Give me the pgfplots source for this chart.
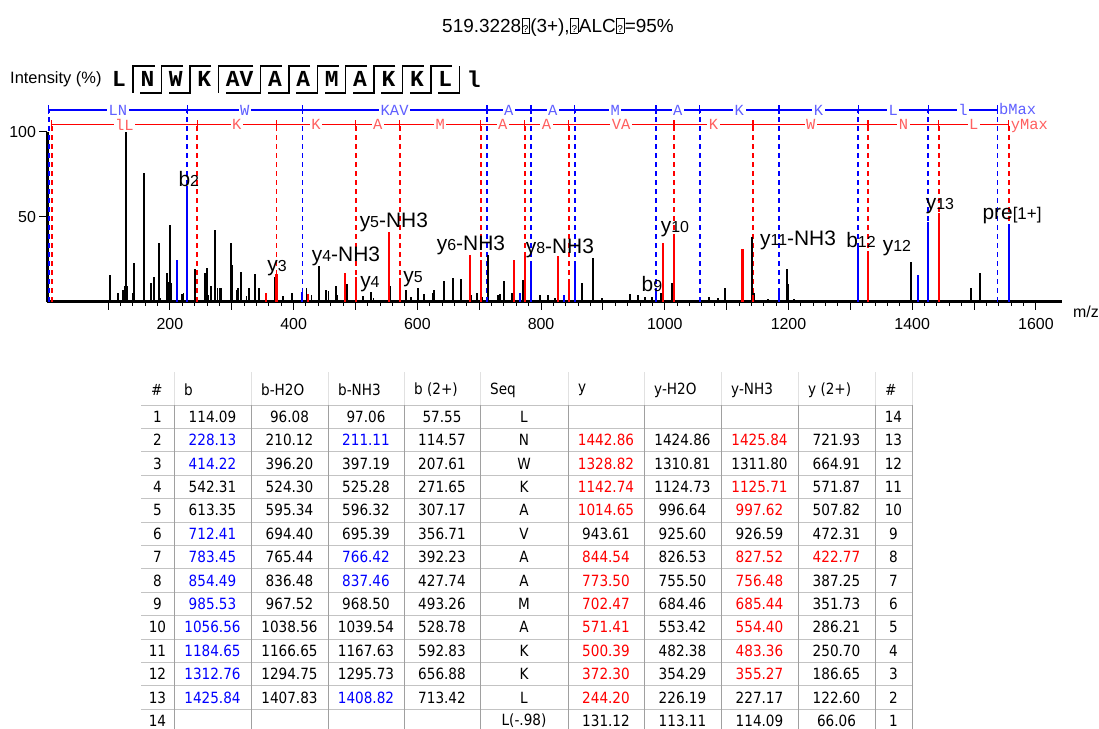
\documentclass[border=0pt]{standalone}
\usepackage{pgfplots}
\pgfplotsset{compat=1.18}
\usepackage{fontspec}
\setmainfont{Liberation Sans}
\newfontfamily\monofont{Liberation Mono}
\newfontfamily\tabfont[FakeStretch=0.88]{DejaVu Sans}
\definecolor{pblue}{RGB}{0,0,255}
\definecolor{pred}{RGB}{255,0,0}
\definecolor{lblue}{RGB}{96,96,255}
\definecolor{lred}{RGB}{255,96,96}
\newcommand\fs[1]{\fontsize{#1}{#1}\selectfont}
\newcommand\ion[3]{{\fs{21}#1}{\fs{16}#2}{\fs{21}#3}}
\newcommand\B{\color{pblue}}
\newcommand\R{\color{pred}}
\newcommand\tofu{\kern0.5pt{\fboxsep=0.7pt\fboxrule=0.6pt\fbox{\vphantom{8}\fs{10}?}}\kern0.5pt}

\pgfplotstableread{
mz I
103.2 15.7
115.5 5.3
124.7 7
127.0 9
129.0 100
131.2 9
140.0 5
142.5 22.5
158.6 75.9
169.4 10.8
174.8 14.7
182.4 34.7
184.5 2
194.8 16.7
197.5 11.8
199.6 44.9
201.3 10.8
220.0 4.5
222.0 5
240.5 19
256.7 16.7
259.4 20
262.0 4
266.0 9
273.4 42.2
277.0 8
280.5 8
283.0 8
298.2 34.5
299.8 21.6
308.0 7
310.0 8
314.4 17.3
324.0 3.5
327.0 4.5
328.5 8
337.5 16.3
344.5 8
369.9 14.7
383.3 3.5
396.8 5.3
420.8 8
429.0 4
441.0 21.2
452.3 7
456.5 6.5
468.5 9
470.5 4
486.7 10.4
512.6 3.5
525.0 6
529.0 2
555.8 9
581.2 7
589.7 3
601.6 8
611.2 4.5
624.8 5.3
627.4 7
643.6 12.4
657.1 14.1
670.6 13.1
686.7 4
695.9 5
705.0 3
713.7 27.5
730.8 4
733.6 4.5
740.6 12.4
752.5 5
770.8 13
798.3 4
810.7 4
822.5 2
865.7 10.8
884.4 25.5
898.0 2
943.8 4.5
957.2 4
968.0 3
978.8 2.5
993.9 5
1012.2 11.2
1071.5 3
1086.5 2
1097.3 8
1140.5 37.8
1144.7 5
1166.3 1.5
1197.5 19.2
1199.7 10.4
1208.9 1.5
1397.5 23.5
1494.5 8.2
1509.5 16.7
}\blackpeaks

\pgfplotstableread{
mz I
244.20 3
355.27 5.3
372.30 16.3
422.77 4.3
483.36 16.7
500.39 14.7
554.40 41
571.41 13.7
685.44 27.5
702.47 24.5
756.48 24.5
773.50 26.5
827.52 26.9
844.54 11.8
997.62 34.3
1014.65 38.6
1125.71 31
1142.74 4
1328.82 30
1442.86 52
}\redpeaks

\pgfplotstableread{
mz I
211.11 24.5
228.13 68
414.22 6
712.41 3
766.42 5
783.45 22.5
837.46 4
854.49 22.5
985.53 5
1056.56 2
1184.65 5.3
1312.76 33.3
1408.82 15.7
1425.84 47
1555.95 46
}\bluepeaks

\pgfplotstableread{
mz L
4 112.8
228.13 112.8
414.22 112.8
712.41 112.8
783.45 112.8
854.49 112.8
985.53 112.8
1056.56 112.8
1184.65 112.8
1312.76 112.8
1425.84 112.8
1537.94 112.8
}\bladder

\pgfplotstableread{
mz L
9 104.2
244.20 104.2
372.30 104.2
500.39 104.2
571.41 104.2
702.47 104.2
773.50 104.2
844.54 104.2
1014.65 104.2
1142.74 104.2
1328.82 104.2
1442.86 104.2
1555.95 104.2
}\yladder

\begin{document}
\begin{tikzpicture}
\begin{axis}[
  at={(47.4bp,-301.7bp)}, anchor=south west,
  scale only axis, width=1014.5bp, height=170bp,
  xmin=2, xmax=1642, ymin=0, ymax=100,
  clip=false,
  axis x line*=bottom, axis y line*=left,
  axis line style={-, line width=2.5bp, black},
  xtick={100,200,...,1600},
  xticklabels={,200,,400,,600,,800,,1000,,1200,,1400,,1600},
  minor x tick num=4,
  ytick={50,100}, yticklabels={50,100},
  tick align=outside,
  major tick length=8bp, minor tick length=4bp,
  tick style={black, line width=1bp},
  ticklabel style={font=\fs{16}},
  xticklabel style={yshift=-5bp},
  /pgf/number format/assume math mode=true,
]
% dashed guide lines
\addplot[ycomb, pblue, line width=1.8bp, dash pattern=on 5bp off 4bp] table[x=mz,y=L] {\bladder};
\addplot[ycomb, pred, line width=1.8bp, dash pattern=on 5bp off 4bp] table[x=mz,y=L] {\yladder};
% peaks
\addplot[ycomb, black, line width=1.8bp] table[x=mz,y=I] {\blackpeaks};
\addplot[ycomb, pred, line width=2.1bp] table[x=mz,y=I] {\redpeaks};
\addplot[ycomb, pblue, line width=2.1bp] table[x=mz,y=I] {\bluepeaks};
% ladders
\draw[pblue, line width=1.3bp] (axis cs:4,112.8) -- (axis cs:1537.94,112.8);
\draw[pred, line width=1.3bp] (axis cs:9,104.2) -- (axis cs:1555.95,104.2);
\addplot[only marks, mark=|, mark size=4.5bp, pblue, mark options={line width=1.4bp}] table[x=mz,y=L] {\bladder};
\addplot[only marks, mark=|, mark size=4.5bp, pred, mark options={line width=1.4bp}] table[x=mz,y=L] {\yladder};
\tikzset{bl/.style={fill=white, inner sep=1.5bp, text=lblue, font=\monofont\fs{15.5}},
         rl/.style={fill=white, inner sep=1.5bp, text=lred, font=\monofont\fs{15.5}}}
\node[bl] at (axis cs:116,112.8) {LN};
\node[bl] at (axis cs:321.2,112.8) {W};
\node[bl] at (axis cs:563.3,112.8) {KAV};
\node[bl] at (axis cs:747.9,112.8) {A};
\node[bl] at (axis cs:819,112.8) {A};
\node[bl] at (axis cs:920,112.8) {M};
\node[bl] at (axis cs:1021,112.8) {A};
\node[bl] at (axis cs:1120.6,112.8) {K};
\node[bl] at (axis cs:1248.7,112.8) {K};
\node[bl] at (axis cs:1369.3,112.8) {L};
\node[bl] at (axis cs:1481.9,112.8) {l};
\node[bl, anchor=west, inner sep=0pt] at (axis cs:1540,113.3) {bMax};
\node[rl] at (axis cs:126.6,104.2) {lL};
\node[rl] at (axis cs:308.25,104.2) {K};
\node[rl] at (axis cs:436.3,104.2) {K};
\node[rl] at (axis cs:535.9,104.2) {A};
\node[rl] at (axis cs:636.9,104.2) {M};
\node[rl] at (axis cs:738,104.2) {A};
\node[rl] at (axis cs:809,104.2) {A};
\node[rl] at (axis cs:929.6,104.2) {VA};
\node[rl] at (axis cs:1078.7,104.2) {K};
\node[rl] at (axis cs:1235.8,104.2) {W};
\node[rl] at (axis cs:1385.8,104.2) {N};
\node[rl] at (axis cs:1499.4,104.2) {L};
\node[rl, anchor=west, inner sep=0pt] at (axis cs:1559,103.4) {yMax};
% ion labels
\tikzset{il/.style={inner sep=0pt}}
\node[il] at (axis cs:230.5,72.2) {\ion{b}{2}{}};
\node[il] at (axis cs:373.1,19.8) {\ion{y}{3}{}};
\node[il] at (axis cs:484.6,26.9) {\ion{y}{4}{-NH3}};
\node[il] at (axis cs:523.4,10.4) {\ion{y}{4}{}};
\node[il] at (axis cs:562,46.9) {\ion{y}{5}{-NH3}};
\node[il] at (axis cs:593,13.4) {\ion{y}{5}{}};
\node[il] at (axis cs:686.7,33.4) {\ion{y}{6}{-NH3}};
\node[il] at (axis cs:830.5,31.6) {\ion{y}{8}{-NH3}};
\node[il] at (axis cs:1016.5,42.8) {\ion{y}{10}{}};
\node[il] at (axis cs:979.3,10.4) {\ion{b}{9}{}};
\node[il] at (axis cs:1215.4,36.3) {\ion{y}{11}{-NH3}};
\node[il] at (axis cs:1317.2,36.3) {\ion{b}{12}{}};
\node[il] at (axis cs:1375.4,31.6) {\ion{y}{12}{}};
\node[il] at (axis cs:1444.9,56.3) {\ion{y}{13}{}};
\node[il] at (axis cs:1561.3,50.4) {{\fs{21}pre}{\fs{17}[1+]}};
\end{axis}

\begin{scope}[x=1bp,y=-1bp]
% title
\node at (558,27) {\fs{19}519.3228\tofu(3+),\tofu ALC\tofu=95\%};
\node[anchor=west, inner sep=0pt] at (10,79) {\fs{16.5}Intensity (\%)};
\node[anchor=west, inner sep=0pt] at (1073,312) {\fs{16}m/z};
% sequence
\tikzset{aa/.style={inner sep=0pt, font=\monofont\bfseries\fs{23}}}
\foreach \xx/\t in {112/L,140.4/N,168.8/W,197.2/K,225.6/AV,267.8/A,296.2/A,324.6/M,353/A,381.4/K,409.8/K,438.2/L,466.6/l}
  \node[aa, anchor=west] at (\xx,79) {\t};
\tikzset{br/.style={line width=1.3bp, black}}
% boundary: x / top hook end / bottom hook end
\foreach \xx/\tp/\bt in {133.1/154.5/133.1, 161.5/183/140.4, 189.9/211.2/168.8, 218.3/253.4/218.3, 260.5/281.8/225.6, 288.9/310.2/267.8, 317.3/338.6/296.2, 345.7/367/324.6, 374.1/395.4/353, 402.5/423.8/381.4, 430.9/452.2/409.8, 459.3/459.3/438.2}
  \draw[br] (\tp,66) -- (\xx,66) -- (\xx,93) -- (\bt,93);
% table
\definecolor{hgrid}{RGB}{225,225,225}
\definecolor{vgrid}{RGB}{160,160,160}
\definecolor{rgrid}{RGB}{195,195,195}
\foreach \xx in {174,251,328,404,480,568,644,721,798,875}
  \draw[hgrid, line width=1bp] (\xx,372) -- (\xx,405);
\foreach \k in {0,...,14}
  \draw[rgrid, line width=1bp] (141,{405+23.4*\k}) -- (912,{405+23.4*\k});
\foreach \xx in {174,251,328,404,480,568,644,721,798,875,912}
  \draw[vgrid, line width=1bp] (\xx,405) -- (\xx,740);
\draw[hgrid, line width=1bp] (912,372) -- (912,405);
\tikzset{th/.style={anchor=west, inner sep=0pt, font=\tabfont\fs{15.5}},
         td/.style={inner sep=0pt, font=\tabfont\fs{15.5}}}
\foreach \xx/\t in {151/\#,184/b,261/b-H2O,338/b-NH3,414/b (2+),490/Seq,578/y,654/y-H2O,731/y-NH3,808/y (2+),885/\#}
  \node[th] at (\xx,390) {\t};
\foreach \n/\ba/\bb/\bc/\bd/\s/\ya/\yb/\yc/\yd/\m in {
 1/114.09/96.08/97.06/57.55/L/{}/{}/{}/{}/14,
 2/{\B 228.13}/210.12/{\B 211.11}/114.57/N/{\R 1442.86}/1424.86/{\R 1425.84}/721.93/13,
 3/{\B 414.22}/396.20/397.19/207.61/W/{\R 1328.82}/1310.81/1311.80/664.91/12,
 4/542.31/524.30/525.28/271.65/K/{\R 1142.74}/1124.73/{\R 1125.71}/571.87/11,
 5/613.35/595.34/596.32/307.17/A/{\R 1014.65}/996.64/{\R 997.62}/507.82/10,
 6/{\B 712.41}/694.40/695.39/356.71/V/943.61/925.60/926.59/472.31/9,
 7/{\B 783.45}/765.44/{\B 766.42}/392.23/A/{\R 844.54}/826.53/{\R 827.52}/{\R 422.77}/8,
 8/{\B 854.49}/836.48/{\B 837.46}/427.74/A/{\R 773.50}/755.50/{\R 756.48}/387.25/7,
 9/{\B 985.53}/967.52/968.50/493.26/M/{\R 702.47}/684.46/{\R 685.44}/351.73/6,
 10/{\B 1056.56}/1038.56/1039.54/528.78/A/{\R 571.41}/553.42/{\R 554.40}/286.21/5,
 11/{\B 1184.65}/1166.65/1167.63/592.83/K/{\R 500.39}/482.38/{\R 483.36}/250.70/4,
 12/{\B 1312.76}/1294.75/1295.73/656.88/K/{\R 372.30}/354.29/{\R 355.27}/186.65/3,
 13/{\B 1425.84}/1407.83/{\B 1408.82}/713.42/L/{\R 244.20}/226.19/227.17/122.60/2,
 14/{}/{}/{}/{}/L(-.98)/131.12/113.11/114.09/66.06/1}
{
 \pgfmathsetmacro\yy{416.7+23.4*(\n-1)}
 \node[td] at (157.5,\yy) {\n};
 \node[td] at (212.5,\yy) {\ba};
 \node[td] at (289.5,\yy) {\bb};
 \node[td] at (366,\yy) {\bc};
 \node[td] at (442,\yy) {\bd};
 \node[td] at (524,\yy) {\s};
 \node[td] at (606,\yy) {\ya};
 \node[td] at (682.5,\yy) {\yb};
 \node[td] at (759.5,\yy) {\yc};
 \node[td] at (836.5,\yy) {\yd};
 \node[td] at (893.5,\yy) {\m};
}
\end{scope}
\pgfresetboundingbox
\path[use as bounding box] (0bp,0bp) rectangle (1099bp,-729bp);
\end{tikzpicture}
\end{document}
